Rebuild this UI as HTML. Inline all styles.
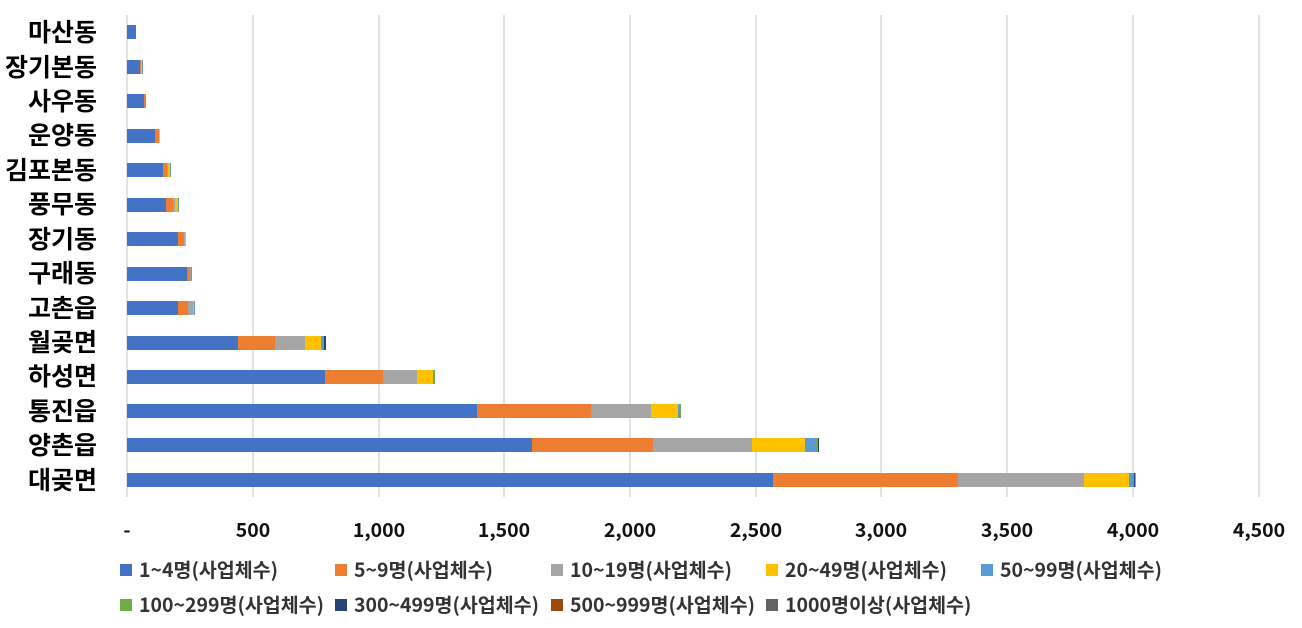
<!DOCTYPE html>
<html><head><meta charset="utf-8"><style>
body{margin:0;background:#fff}
svg{display:block;font-family:"Liberation Sans","Noto Sans CJK KR",sans-serif}
.k{font-family:"Noto Sans CJK KR","Liberation Sans",sans-serif}
</style></head><body>
<svg width="1302" height="628" viewBox="0 0 1302 628">
<g stroke="#d9d9d9" stroke-width="1.5">
<line x1="127" y1="15" x2="127" y2="497"/><line x1="253" y1="15" x2="253" y2="497"/><line x1="379" y1="15" x2="379" y2="497"/><line x1="504" y1="15" x2="504" y2="497"/><line x1="630" y1="15" x2="630" y2="497"/><line x1="756" y1="15" x2="756" y2="497"/><line x1="881" y1="15" x2="881" y2="497"/><line x1="1007" y1="15" x2="1007" y2="497"/><line x1="1133" y1="15" x2="1133" y2="497"/><line x1="1259" y1="15" x2="1259" y2="497"/>
</g>
<g class="k" font-size="25" font-weight="bold" fill="#000" text-anchor="end">
<text x="97" y="41">마산동</text><text x="97" y="76">장기본동</text><text x="97" y="110">사우동</text><text x="97" y="144">운양동</text><text x="97" y="179">김포본동</text><text x="97" y="213">풍무동</text><text x="97" y="248">장기동</text><text x="97" y="282">구래동</text><text x="97" y="317">고촌읍</text><text x="97" y="351">월곶면</text><text x="97" y="385">하성면</text><text x="97" y="420">통진읍</text><text x="97" y="454">양촌읍</text><text x="97" y="489">대곶면</text>
</g>
<g class="k" font-size="19.5" font-weight="bold" fill="#111" text-anchor="middle">
<text x="127" y="537">-</text><text x="253" y="537">500</text><text x="379" y="537">1,000</text><text x="504" y="537">1,500</text><text x="630" y="537">2,000</text><text x="756" y="537">2,500</text><text x="881" y="537">3,000</text><text x="1007" y="537">3,500</text><text x="1133" y="537">4,000</text><text x="1259" y="537">4,500</text>
</g>
<g class="k" font-size="19.5" font-weight="bold" fill="#333">
<rect x="120" y="564" width="12" height="12" fill="#4472C4"/><text x="139" y="577">1~4명(사업체수)</text>
<rect x="335" y="564" width="12" height="12" fill="#ED7D31"/><text x="354" y="577">5~9명(사업체수)</text>
<rect x="551" y="564" width="12" height="12" fill="#A5A5A5"/><text x="570" y="577">10~19명(사업체수)</text>
<rect x="766" y="564" width="12" height="12" fill="#FFC000"/><text x="785" y="577">20~49명(사업체수)</text>
<rect x="981" y="564" width="12" height="12" fill="#5B9BD5"/><text x="1000" y="577">50~99명(사업체수)</text>
<rect x="120" y="599" width="12" height="12" fill="#70AD47"/><text x="139" y="612">100~299명(사업체수)</text>
<rect x="335" y="599" width="12" height="12" fill="#264478"/><text x="354" y="612">300~499명(사업체수)</text>
<rect x="551" y="599" width="12" height="12" fill="#9E480E"/><text x="570" y="612">500~999명(사업체수)</text>
<rect x="766" y="599" width="12" height="12" fill="#636363"/><text x="785" y="612">1000명이상(사업체수)</text>
</g>
<g>
<rect x="127" y="25" width="9" height="14" fill="#4472C4"/>
<rect x="127" y="60" width="13" height="14" fill="#4472C4"/><rect x="140" y="60" width="1" height="14" fill="#ED7D31"/><rect x="141" y="60" width="1" height="14" fill="#FFC000"/><rect x="142" y="60" width="1" height="14" fill="#5B9BD5"/>
<rect x="127" y="94" width="17" height="14" fill="#4472C4"/><rect x="144" y="94" width="2" height="14" fill="#ED7D31"/>
<rect x="127" y="129" width="28" height="14" fill="#4472C4"/><rect x="155" y="129" width="4" height="14" fill="#ED7D31"/><rect x="159" y="129" width="1" height="14" fill="#FFC000"/>
<rect x="127" y="163" width="36" height="14" fill="#4472C4"/><rect x="163" y="163" width="4" height="14" fill="#ED7D31"/><rect x="167" y="163" width="1" height="14" fill="#A5A5A5"/><rect x="168" y="163" width="2" height="14" fill="#FFC000"/><rect x="170" y="163" width="1" height="14" fill="#5B9BD5"/>
<rect x="127" y="198" width="39" height="14" fill="#4472C4"/><rect x="166" y="198" width="7" height="14" fill="#ED7D31"/><rect x="173" y="198" width="2" height="14" fill="#A5A5A5"/><rect x="175" y="198" width="3" height="14" fill="#FFC000"/><rect x="178" y="198" width="1" height="14" fill="#5B9BD5"/>
<rect x="127" y="232" width="51" height="14" fill="#4472C4"/><rect x="178" y="232" width="6" height="14" fill="#ED7D31"/><rect x="184" y="232" width="1" height="14" fill="#A5A5A5"/><rect x="185" y="232" width="1" height="14" fill="#FFC000"/>
<rect x="127" y="267" width="60" height="14" fill="#4472C4"/><rect x="187" y="267" width="3" height="14" fill="#ED7D31"/><rect x="190" y="267" width="1" height="14" fill="#A5A5A5"/><rect x="191" y="267" width="1" height="14" fill="#5B9BD5"/>
<rect x="127" y="301" width="51" height="14" fill="#4472C4"/><rect x="178" y="301" width="10" height="14" fill="#ED7D31"/><rect x="188" y="301" width="5" height="14" fill="#A5A5A5"/><rect x="193" y="301" width="1" height="14" fill="#FFC000"/><rect x="194" y="301" width="1" height="14" fill="#5B9BD5"/>
<rect x="127" y="336" width="111" height="14" fill="#4472C4"/><rect x="238" y="336" width="37" height="14" fill="#ED7D31"/><rect x="275" y="336" width="30" height="14" fill="#A5A5A5"/><rect x="305" y="336" width="16" height="14" fill="#FFC000"/><rect x="321" y="336" width="3" height="14" fill="#5B9BD5"/><rect x="324" y="336" width="2" height="14" fill="#264478"/>
<rect x="127" y="370" width="198" height="14" fill="#4472C4"/><rect x="325" y="370" width="58" height="14" fill="#ED7D31"/><rect x="383" y="370" width="34" height="14" fill="#A5A5A5"/><rect x="417" y="370" width="16" height="14" fill="#FFC000"/><rect x="433" y="370" width="2" height="14" fill="#70AD47"/>
<rect x="127" y="404" width="350" height="14" fill="#4472C4"/><rect x="477" y="404" width="114" height="14" fill="#ED7D31"/><rect x="591" y="404" width="60" height="14" fill="#A5A5A5"/><rect x="651" y="404" width="27" height="14" fill="#FFC000"/><rect x="678" y="404" width="2" height="14" fill="#5B9BD5"/><rect x="680" y="404" width="1" height="14" fill="#70AD47"/>
<rect x="127" y="438" width="405" height="14" fill="#4472C4"/><rect x="532" y="438" width="121" height="14" fill="#ED7D31"/><rect x="653" y="438" width="99" height="14" fill="#A5A5A5"/><rect x="752" y="438" width="53" height="14" fill="#FFC000"/><rect x="805" y="438" width="11" height="14" fill="#5B9BD5"/><rect x="816" y="438" width="2" height="14" fill="#70AD47"/><rect x="818" y="438" width="1" height="14" fill="#264478"/>
<rect x="127" y="473" width="646" height="14" fill="#4472C4"/><rect x="773" y="473" width="185" height="14" fill="#ED7D31"/><rect x="958" y="473" width="126" height="14" fill="#A5A5A5"/><rect x="1084" y="473" width="45" height="14" fill="#FFC000"/><rect x="1129" y="473" width="5" height="14" fill="#5B9BD5"/><rect x="1134" y="473" width="1.5" height="14" fill="#264478"/>
</g>
</svg>
</body></html>
